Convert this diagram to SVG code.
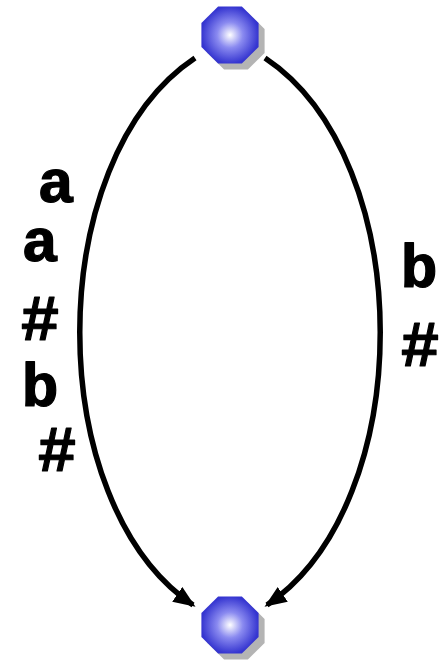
<svg xmlns="http://www.w3.org/2000/svg" width="446" height="660" viewBox="0 0 446 660">
<style>
.lbl{font-family:"Liberation Mono","Courier New",monospace;font-weight:bold;font-size:62px;fill:#000;stroke:#000;stroke-width:1.2;stroke-linejoin:round;text-anchor:middle}
.hash{font-size:65px}
.edge{fill:none;stroke:#000;stroke-width:5.5}
</style>
<defs>
<radialGradient id="g" cx="0.5" cy="0.5" r="0.5">
<stop offset="0" stop-color="#ffffff"/>
<stop offset="0.45" stop-color="#8a8af0"/>
<stop offset="1" stop-color="#3535d0"/>
</radialGradient>
<polygon id="oct" points="28.6,11.9 11.9,28.6 -11.9,28.6 -28.6,11.9 -28.6,-11.9 -11.9,-28.6 11.9,-28.6 28.6,-11.9"/>
<marker id="arr" markerUnits="userSpaceOnUse" markerWidth="24" markerHeight="20" refX="19" refY="9" orient="auto" viewBox="0 0 24 20">
<path d="M0,0 L22,9 L0,18 z" fill="#000"/>
</marker>
</defs>
<g id="edges">
<path class="edge" d="M195,58 C41.7,160 41.7,503 193,605" marker-end="url(#arr)"/>
<path class="edge" d="M265,58 C418.3,160 418.3,503 267,605" marker-end="url(#arr)"/>
</g>
<g id="node-top">
<use href="#oct" x="236" y="41" fill="#b4b4b4"/>
<use href="#oct" x="230" y="35" fill="url(#g)"/>
</g>
<g id="node-bottom">
<use href="#oct" x="236" y="631" fill="#b4b4b4"/>
<use href="#oct" x="230" y="625" fill="url(#g)"/>
</g>
<g id="labels-left">
<text class="lbl" x="56" y="202">a</text>
<text class="lbl" x="40" y="261">a</text>
<text class="lbl hash" x="40" y="340">#</text>
<text class="lbl" x="40" y="406">b</text>
<text class="lbl hash" x="57" y="471">#</text>
</g>
<g id="labels-right">
<text class="lbl" x="419" y="287">b</text>
<text class="lbl hash" x="420" y="366">#</text>
</g>
</svg>
